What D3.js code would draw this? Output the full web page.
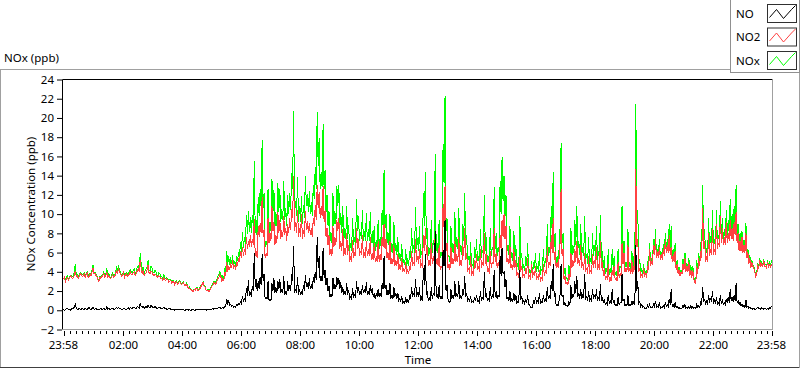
<!DOCTYPE html>
<html>
<head>
<meta charset="utf-8">
<script src="https://cdn.jsdelivr.net/npm/d3@7"></script>
<style>
  body { margin: 0; background: #fff; }
  svg text { font-family: "Noto Sans", sans-serif; font-size: 11.5px; fill: #000; }
</style>
</head>
<body>
<svg id="chart" width="800" height="369"></svg>
<script>
// samples every 2 minutes starting 23:58 (one row = 20 min)
const startClock = "23:58";
const stepMinutes = 2;

const no = [
  0.1,0.0,0.1,0.2,0.2,0.1,0.1,0.0,0.1,0.2,
  0.2,0.3,0.7,0.2,0.1,0.1,0.2,0.1,0.1,0.2,
  0.1,0.1,0.2,0.1,0.1,0.2,0.3,0.1,0.1,0.2,
  0.3,0.1,0.1,0.2,0.1,0.1,0.1,0.1,0.2,0.1,
  0.1,0.2,0.1,0.1,0.4,0.1,0.2,0.1,0.1,0.2,
  0.2,0.1,0.1,0.2,0.3,0.2,0.3,0.2,0.2,0.1,
  0.1,0.2,0.2,0.1,0.1,0.2,0.3,0.1,0.3,0.2,
  0.2,0.3,0.3,0.2,0.2,0.4,0.3,0.2,0.7,0.4,
  0.3,0.4,0.2,0.3,0.4,0.3,0.5,0.3,0.3,0.5,
  0.4,0.3,0.3,0.4,0.3,0.2,0.2,0.3,0.3,0.2,
  0.2,0.2,0.3,0.2,0.2,0.1,0.1,0.2,0.2,0.1,
  0.1,0.1,0.1,0.0,0.1,0.1,0.1,0.1,0.1,0.1,
  0.1,0.1,0.1,0.0,0.0,0.1,0.1,0.0,0.1,0.0,
  0.0,0.1,0.1,0.0,0.0,0.1,0.1,0.1,0.1,0.1,
  0.1,0.1,0.1,0.1,0.1,0.0,0.1,0.1,0.1,0.1,
  0.1,0.1,0.2,0.1,0.2,0.2,0.2,0.2,0.3,0.3,
  0.2,0.2,0.3,0.2,0.4,0.4,1.2,0.7,1.0,0.5,
  0.6,0.4,0.5,0.3,0.4,0.3,0.6,0.5,0.7,0.6,
  0.9,0.7,1.5,0.9,1.2,1.0,2.3,1.5,3.1,1.5,
  1.9,1.4,2.5,2.0,6.0,2.4,3.2,2.0,3.0,2.2,
  3.5,2.6,5.9,3.0,3.8,1.2,1.3,1.2,3.0,1.0,
  1.2,1.0,2.8,2.0,3.3,1.8,2.4,1.8,3.0,2.2,
  3.2,1.8,2.2,1.8,3.6,1.6,2.0,1.6,3.0,2.0,
  2.6,2.0,3.8,3.0,6.7,1.8,2.2,1.8,3.5,1.6,
  2.2,1.6,1.9,1.6,2.6,2.0,3.7,2.4,2.8,2.2,
  3.3,2.2,2.7,2.2,3.4,2.8,4.0,3.2,7.6,4.4,
  5.6,3.0,3.6,3.0,6.5,3.4,4.2,2.6,3.4,2.0,
  2.5,1.4,1.7,1.4,3.4,2.2,2.7,2.2,3.5,2.6,
  3.4,2.2,2.9,1.8,2.4,1.6,2.0,1.6,2.8,1.6,
  2.1,1.2,1.4,1.2,2.3,1.4,1.6,1.4,3.0,1.8,
  2.4,1.6,1.9,1.6,2.6,1.8,2.2,1.8,2.9,1.6,
  2.0,1.6,2.6,1.8,2.3,1.4,1.8,1.2,1.7,1.4,
  2.2,1.4,1.8,1.4,2.8,2.2,5.6,2.2,2.6,1.6,
  2.1,1.6,2.8,1.2,1.6,1.2,2.4,1.4,1.8,1.2,
  1.8,1.0,1.2,0.9,1.5,0.8,0.9,0.7,1.4,0.8,
  1.1,0.8,1.6,1.2,2.4,1.4,1.8,1.4,3.3,1.4,
  1.9,1.4,2.4,1.0,1.3,1.0,4.4,2.6,5.8,1.6,
  2.0,1.0,1.3,1.0,2.4,1.2,1.7,1.6,8.2,1.4,
  1.6,1.2,2.6,1.2,1.5,1.2,6.3,4.6,9.4,2.0,
  2.6,1.2,0.9,0.8,2.2,1.2,1.6,1.2,3.0,1.4,
  1.8,1.4,3.0,1.2,1.6,1.2,2.2,1.6,3.6,1.4,
  1.8,1.0,1.2,0.9,1.5,0.8,0.9,0.8,1.4,1.0,
  1.6,0.9,1.0,0.8,2.0,1.0,1.3,1.2,4.0,1.4,
  1.8,1.0,1.2,1.0,2.4,1.2,1.6,1.4,4.2,1.4,
  2.0,1.2,1.6,1.4,5.6,3.6,6.5,3.8,4.0,2.4,
  3.2,1.2,1.4,1.0,2.0,1.0,1.2,0.9,1.8,1.0,
  1.6,0.8,0.9,0.8,4.2,1.2,1.4,0.8,1.0,0.7,
  1.2,0.8,1.6,0.6,0.6,0.3,0.3,0.3,1.0,0.8,
  1.4,0.8,1.0,0.8,1.8,0.7,0.9,0.8,1.6,0.9,
  1.2,0.9,2.4,1.2,1.6,1.2,3.0,2.0,4.8,1.4,
  1.8,0.5,0.6,0.5,1.0,1.6,4.8,1.4,1.6,0.6,
  0.8,0.5,0.5,0.4,0.9,0.6,2.6,1.2,1.6,1.4,
  3.0,1.8,3.6,1.4,1.8,1.2,2.2,1.2,1.6,1.4,
  3.8,1.2,1.4,1.0,2.0,1.0,1.2,1.0,2.2,1.2,
  1.6,1.2,2.2,1.0,1.4,1.0,2.7,1.0,1.2,0.8,
  1.2,0.6,0.8,0.6,1.6,0.7,1.0,0.7,2.2,0.8,
  1.0,0.5,0.6,0.5,1.4,0.6,0.8,0.8,3.8,1.0,
  1.2,0.5,0.6,0.5,1.6,0.5,0.6,0.5,1.0,0.6,
  1.0,0.6,6.8,2.0,3.0,0.7,0.9,0.4,0.6,0.3,
  0.4,0.2,0.2,0.2,0.5,0.3,0.6,0.3,0.3,0.3,
  0.6,0.4,1.0,0.3,0.4,0.3,0.8,0.2,0.3,0.3,
  0.5,0.3,0.8,0.4,0.6,0.4,1.2,0.6,2.2,0.4,
  0.6,0.3,0.8,0.3,0.4,0.2,0.3,0.2,0.2,0.2,
  0.5,0.3,0.6,0.2,0.3,0.2,0.4,0.2,0.5,0.2,
  0.4,0.2,0.3,0.2,0.6,0.3,0.5,0.3,0.9,0.6,
  2.4,0.9,1.2,0.6,0.9,0.6,1.6,0.8,1.3,0.9,
  2.0,0.7,1.0,0.7,1.4,0.6,0.8,0.6,1.6,0.7,
  1.0,0.6,0.8,0.6,1.2,0.8,1.4,0.8,2.2,1.0,
  1.4,0.9,1.6,1.0,2.8,0.8,1.0,0.6,0.8,0.5,
  0.6,0.4,0.5,0.3,1.1,0.3,0.4,0.2,0.3,0.2,
  0.2,0.1,0.2,0.1,0.1,0.2,0.3,0.2,0.2,0.1,
  0.3,0.2,0.1,0.2,0.2,0.1,0.2,0.1,0.3,0.2,
  0.4
];

const no2 = [
  3.2,3.4,3.0,3.3,3.4,3.1,3.3,3.6,3.5,3.3,
  3.4,3.7,4.1,3.5,3.6,3.3,3.5,3.8,3.7,3.5,
  3.6,3.8,3.4,3.7,3.9,3.4,3.5,3.8,3.6,4.0,
  4.4,3.8,3.9,3.6,3.5,3.2,3.0,3.4,3.3,3.5,
  3.6,3.8,3.4,3.6,4.0,3.5,3.6,3.4,3.3,3.5,
  3.7,3.4,3.5,3.8,4.1,3.9,4.4,3.9,3.8,3.5,
  3.6,3.9,3.4,3.7,3.8,3.5,3.6,3.8,4.0,3.7,
  3.7,3.9,4.0,3.6,3.8,4.1,4.3,4.0,5.2,4.4,
  3.8,4.1,3.6,3.8,3.9,4.2,4.7,3.9,3.8,4.1,
  4.0,3.7,3.6,3.8,3.7,3.5,3.4,3.6,3.5,3.3,
  3.3,3.1,3.4,3.2,3.1,3.3,3.2,2.9,3.0,3.1,
  2.8,3.0,3.0,2.7,2.9,3.0,2.7,2.9,3.0,2.8,
  2.7,2.8,2.9,2.6,2.6,2.7,2.5,2.3,2.3,2.2,
  2.2,2.0,2.0,2.2,2.1,2.3,2.3,2.0,2.1,2.3,
  2.5,2.7,2.9,2.5,2.4,2.1,2.0,2.1,1.9,2.1,
  2.3,2.5,2.6,2.9,2.8,2.7,3.0,3.3,3.4,3.7,
  3.5,3.0,3.3,3.1,3.8,3.6,5.0,4.0,4.6,4.2,
  4.9,4.4,5.2,4.3,4.7,4.2,5.0,4.6,5.4,5.0,
  6.2,5.4,6.6,5.6,6.4,5.8,7.6,6.4,7.2,6.6,
  7.8,6.6,7.4,6.8,9.5,5.6,6.2,5.4,8.8,7.6,
  9.1,8.0,11.8,7.6,8.4,5.4,5.9,5.6,9.6,7.0,
  8.0,7.2,10.8,8.2,9.2,6.8,7.8,7.0,10.2,8.0,
  9.4,7.4,8.3,7.6,9.8,7.8,8.6,7.2,9.0,8.0,
  9.6,8.4,10.5,9.6,14.0,8.2,9.2,8.0,10.4,7.6,
  8.6,7.6,10.0,7.4,8.3,7.6,10.3,8.4,9.3,8.0,
  9.1,7.8,8.6,7.6,9.6,8.8,10.9,9.4,13.0,10.6,
  12.3,9.6,10.8,9.8,12.9,9.2,10.4,7.6,8.6,6.8,
  7.8,5.8,6.4,5.6,8.8,6.6,7.6,6.8,9.4,8.2,
  9.6,6.4,7.2,6.2,8.4,5.6,6.5,5.8,8.0,5.8,
  6.8,5.0,5.6,5.0,7.3,5.4,6.0,5.6,8.6,6.4,
  7.4,5.6,6.2,5.8,7.8,5.4,6.0,5.4,7.2,5.6,
  6.4,5.6,7.6,5.2,5.9,5.2,7.0,5.0,5.6,5.0,
  7.2,5.0,5.8,5.2,7.6,6.6,9.0,6.4,7.4,5.4,
  6.0,5.2,7.2,4.8,5.4,4.8,6.8,4.6,5.2,4.6,
  5.8,4.2,4.8,4.2,5.4,4.0,4.4,4.0,5.0,3.8,
  4.3,3.8,4.6,4.2,6.2,4.6,5.0,4.6,7.4,5.0,
  5.6,4.8,6.4,4.4,4.9,4.4,7.8,6.2,8.6,5.8,
  6.6,4.6,5.2,4.6,7.0,4.8,5.6,5.0,8.0,4.8,
  5.4,4.6,6.8,4.2,4.6,4.4,11.0,8.6,12.9,6.2,
  7.0,4.4,4.8,4.2,6.6,4.8,5.4,4.8,7.2,5.0,
  5.8,5.0,7.6,4.6,5.2,4.6,6.8,5.6,8.6,5.2,
  6.0,4.0,4.4,3.8,5.6,3.6,3.9,3.6,5.2,4.4,
  5.8,4.2,4.6,4.0,6.4,4.4,5.0,4.6,8.0,4.8,
  5.8,4.0,4.4,3.8,6.2,4.4,5.0,4.8,8.6,5.0,
  6.0,4.4,5.0,4.6,7.8,6.4,9.4,7.6,10.0,7.4,
  8.8,5.0,5.4,4.8,6.8,4.4,4.8,4.2,6.4,4.4,
  5.2,3.6,4.0,3.4,5.6,4.0,4.6,3.4,3.8,3.4,
  4.4,3.8,5.4,3.4,3.6,3.2,4.8,3.4,4.0,3.6,
  4.6,3.2,3.6,3.2,4.2,3.0,3.4,3.2,4.8,3.6,
  4.2,3.8,6.6,4.4,5.0,4.6,7.8,6.0,9.6,5.2,
  6.2,4.4,5.0,4.4,5.4,7.0,12.6,5.6,6.4,3.2,
  3.6,2.8,2.9,2.7,3.8,3.2,6.0,4.4,5.2,4.6,
  6.4,5.0,7.2,4.8,5.4,4.6,6.8,4.4,5.0,4.2,
  6.0,4.0,4.4,3.8,5.6,3.8,4.2,3.8,5.8,4.4,
  5.2,4.4,6.6,4.2,4.8,4.2,7.2,4.4,5.0,3.6,
  4.4,3.2,3.6,3.2,4.8,3.0,3.4,3.0,4.2,3.6,
  4.6,3.2,3.4,3.0,5.0,3.4,3.8,3.6,7.0,4.8,
  6.0,4.0,4.4,4.0,6.8,4.0,4.4,3.8,5.2,3.8,
  4.6,4.2,14.7,6.6,7.4,4.0,4.4,3.4,3.8,3.4,
  4.4,3.6,3.8,3.4,4.6,4.2,6.4,4.6,5.0,4.8,
  6.8,5.8,7.4,5.4,6.0,5.4,6.6,5.2,5.8,5.2,
  6.4,5.6,7.2,6.0,6.8,6.0,7.8,5.8,6.6,5.0,
  5.8,5.0,6.2,4.2,4.8,3.8,4.2,3.6,4.0,3.8,
  4.8,4.2,5.4,4.0,4.6,4.0,5.0,3.6,4.2,3.4,
  4.2,3.2,2.9,2.8,4.6,3.8,5.4,4.6,6.2,5.4,
  10.6,6.4,7.2,5.0,5.6,5.0,8.0,5.6,6.4,5.8,
  8.4,5.8,6.4,5.8,9.0,6.4,7.0,6.6,9.8,7.0,
  8.6,6.8,7.6,6.8,9.2,7.0,8.0,7.2,9.4,7.4,
  8.6,7.2,9.2,7.8,10.2,7.0,8.0,6.2,7.2,6.2,
  7.6,6.0,6.8,6.0,8.0,5.4,6.0,4.8,5.4,4.4,
  5.0,4.6,4.4,4.0,3.5,3.8,4.6,4.4,5.2,4.6,
  4.8,4.5,5.2,4.6,4.6,4.4,5.0,4.5,4.7,4.5,
  4.8
];

const nox = [
  3.3,3.4,3.1,3.5,3.6,3.2,3.4,3.6,3.6,3.5,
  3.6,4.0,4.8,3.7,3.7,3.4,3.7,3.9,3.8,3.7,
  3.7,3.9,3.6,3.8,4.0,3.6,3.8,3.9,3.7,4.2,
  4.7,3.9,4.0,3.8,3.6,3.3,3.1,3.5,3.5,3.6,
  3.7,4.0,3.5,3.7,4.4,3.6,3.8,3.5,3.4,3.7,
  3.9,3.5,3.6,4.0,4.4,4.1,4.7,4.1,4.0,3.6,
  3.7,4.1,3.6,3.8,3.9,3.7,3.9,3.9,4.3,3.9,
  3.9,4.2,4.3,3.8,4.0,4.5,4.6,4.2,5.9,4.8,
  4.1,4.5,3.8,4.1,4.3,4.5,5.2,4.2,4.1,4.6,
  4.4,4.0,3.9,4.2,4.0,3.7,3.6,3.9,3.8,3.5,
  3.5,3.3,3.7,3.4,3.3,3.4,3.3,3.1,3.2,3.2,
  2.9,3.1,3.1,2.7,3.0,3.1,2.8,3.0,3.1,2.9,
  2.8,2.9,3.0,2.6,2.6,2.8,2.6,2.3,2.4,2.2,
  2.2,2.1,2.1,2.2,2.1,2.4,2.4,2.1,2.2,2.4,
  2.6,2.8,3.0,2.6,2.5,2.1,2.1,2.2,2.0,2.2,
  2.4,2.6,2.8,3.0,3.0,2.9,3.2,3.5,3.7,4.0,
  3.7,3.2,3.6,3.3,4.2,4.0,6.2,4.7,5.6,4.7,
  5.5,4.8,5.7,4.6,5.1,4.5,5.6,5.1,6.1,5.6,
  7.1,6.1,8.1,6.5,7.6,6.8,9.9,7.9,10.3,8.1,
  9.7,8.0,9.9,8.8,15.5,8.0,9.4,7.4,11.8,9.8,
  12.6,10.6,17.7,10.6,12.2,6.6,7.2,6.8,12.6,8.0,
  9.2,8.2,13.6,10.2,12.5,8.6,10.2,8.8,13.2,10.2,
  12.6,9.2,10.5,9.4,13.4,9.4,10.6,8.8,12.0,10.0,
  12.2,10.4,14.3,12.6,20.7,10.0,11.4,9.8,13.9,9.2,
  10.8,9.2,11.9,9.0,10.9,9.6,14.0,10.8,12.1,10.2,
  12.4,10.0,11.3,9.8,13.0,11.6,14.9,12.6,20.6,15.0,
  17.9,12.6,14.4,12.8,19.4,12.6,14.6,10.2,12.0,8.8,
  10.3,7.2,8.1,7.0,12.2,8.8,10.3,9.0,12.9,10.8,
  13.0,8.6,10.1,8.0,10.8,7.2,8.5,7.4,10.8,7.4,
  8.9,6.2,7.0,6.2,9.6,6.8,7.6,7.0,11.6,8.2,
  9.8,7.2,8.1,7.4,10.4,7.2,8.2,7.2,10.1,7.2,
  8.4,7.2,10.2,7.0,8.2,6.6,8.8,6.2,7.3,6.4,
  9.4,6.4,7.6,6.6,10.4,8.8,14.6,8.6,10.0,7.0,
  8.1,6.8,10.0,6.0,7.0,6.0,9.2,6.0,7.0,5.8,
  7.6,5.2,6.0,5.1,6.9,4.8,5.3,4.7,6.4,4.6,
  5.4,4.6,6.2,5.4,8.6,6.0,6.8,6.0,10.7,6.4,
  7.5,6.2,8.8,5.4,6.2,5.4,12.2,8.8,14.4,7.4,
  8.6,5.6,6.5,5.6,9.4,6.0,7.3,6.6,16.2,6.2,
  7.0,5.8,9.4,5.4,6.1,5.6,17.3,13.2,22.3,8.2,
  9.6,5.6,5.7,5.0,8.8,6.0,7.0,6.0,10.2,6.4,
  7.6,6.4,10.6,5.8,6.8,5.8,9.0,7.2,12.2,6.6,
  7.8,5.0,5.6,4.7,7.1,4.4,4.8,4.4,6.6,5.4,
  7.4,5.1,5.6,4.8,8.4,5.4,6.3,5.8,12.0,6.2,
  7.6,5.0,5.6,4.8,8.6,5.6,6.6,6.2,12.8,6.4,
  8.0,5.6,6.6,6.0,13.4,10.0,15.9,11.4,14.0,9.8,
  12.0,6.2,6.8,5.8,8.8,5.4,6.0,5.1,8.2,5.4,
  6.8,4.4,4.9,4.2,9.8,5.2,6.0,4.2,4.8,4.1,
  5.6,4.6,7.0,4.0,4.2,3.5,5.1,3.7,5.0,4.4,
  6.0,4.0,4.6,4.0,6.0,3.7,4.3,4.0,6.4,4.5,
  5.4,4.7,9.0,5.6,6.6,5.8,10.8,8.0,14.4,6.6,
  8.0,4.9,5.6,4.9,6.4,8.6,17.4,7.0,8.0,3.8,
  4.4,3.3,3.4,3.1,4.7,3.8,8.6,5.6,6.8,6.0,
  9.4,6.8,10.8,6.2,7.2,5.8,9.0,5.6,6.6,5.6,
  9.8,5.2,5.8,4.8,7.6,4.8,5.4,4.8,8.0,5.6,
  6.8,5.6,8.8,5.2,6.2,5.2,9.9,5.4,6.2,4.4,
  5.6,3.8,4.4,3.8,6.4,3.7,4.4,3.7,6.4,4.4,
  5.6,3.7,4.0,3.5,6.4,4.0,4.6,4.4,10.8,5.8,
  7.2,4.5,5.0,4.5,8.4,4.5,5.0,4.3,6.2,4.4,
  5.6,4.8,21.5,8.6,10.4,4.7,5.3,3.8,4.4,3.7,
  4.8,3.8,4.0,3.6,5.1,4.5,7.0,4.9,5.3,5.1,
  7.4,6.2,8.4,5.7,6.4,5.7,7.4,5.4,6.1,5.5,
  6.9,5.9,8.0,6.4,7.4,6.4,9.0,6.4,8.8,5.4,
  6.4,5.3,7.0,4.5,5.2,4.0,4.5,3.8,4.2,4.0,
  5.3,4.5,6.0,4.2,4.9,4.2,5.4,3.8,4.7,3.6,
  4.6,3.4,3.2,3.0,5.2,4.1,5.9,4.9,7.1,6.0,
  13.0,7.3,8.4,5.6,6.5,5.6,9.6,6.4,7.7,6.7,
  10.4,6.5,7.4,6.5,10.4,7.0,7.8,7.2,11.4,7.7,
  9.6,7.4,8.4,7.4,10.4,7.8,9.4,8.0,11.6,8.4,
  10.0,8.1,10.8,8.8,13.0,7.8,9.0,6.8,8.0,6.7,
  8.2,6.4,7.3,6.3,9.1,5.7,6.4,5.0,5.7,4.6,
  5.2,4.7,4.6,4.1,3.6,4.0,4.9,4.6,5.4,4.7,
  5.1,4.7,5.3,4.8,4.8,4.5,5.2,4.6,5.0,4.7,
  5.2
];

const seriesNames = ["NO", "NO2", "NOx"];
const yTickValues = [-2, 0, 2, 4, 6, 8, 10, 12, 14, 16, 18, 20, 22, 24];
const xTickLabels = ["23:58", "02:00", "04:00", "06:00", "08:00", "10:00", "12:00",
                     "14:00", "16:00", "18:00", "20:00", "22:00", "23:58"];

const colors = { NO: "#000000", NO2: "#ff4242", NOx: "#00ff00" };
const plot = { left: 62.5, right: 772.5, top: 79.5, bottom: 329.5, x0: 63.5, x1: 771.5 };

const svg = d3.select("#chart");

// time helpers
const [sh, sm] = startClock.split(":").map(Number);
const start = new Date(2020, 0, 1, sh, sm);
const end = d3.timeMinute.offset(start, 24 * 60);
const timeAt = i => d3.timeMinute.offset(start, i * stepMinutes);

const x = d3.scaleTime().domain([start, end]).range([plot.x0, plot.x1]);
const y = d3.scaleLinear().domain([-2, 24]).range([plot.bottom, plot.top]);

// outer panel lines
svg.append("line").attr("x1", 0).attr("x2", 731).attr("y1", 69.5).attr("y2", 69.5).attr("stroke", "#a0a0a0");
svg.append("line").attr("x1", 0.5).attr("x2", 0.5).attr("y1", 69).attr("y2", 368).attr("stroke", "#a0a0a0");
svg.append("line").attr("x1", 0).attr("x2", 800).attr("y1", 367.5).attr("y2", 367.5).attr("stroke", "#404040");
svg.append("line").attr("x1", 799.5).attr("x2", 799.5).attr("y1", 73).attr("y2", 368).attr("stroke", "#a0a0a0");

svg.append("text").attr("x", 4).attr("y", 62).text("NOx (ppb)");

// plot frame
svg.append("line").attr("x1", plot.left).attr("x2", plot.right).attr("y1", plot.top).attr("y2", plot.top).attr("stroke", "#000");
svg.append("line").attr("x1", plot.left).attr("x2", plot.left).attr("y1", plot.top).attr("y2", plot.bottom).attr("stroke", "#000");
svg.append("line").attr("x1", plot.right).attr("x2", plot.right).attr("y1", plot.top).attr("y2", plot.bottom + 0.5).attr("stroke", "#a0a0a0");
svg.append("line").attr("x1", plot.left).attr("x2", plot.right).attr("y1", plot.bottom).attr("y2", plot.bottom).attr("stroke", "#a0a0a0");

// y axis
const yAxis = svg.append("g").attr("transform", `translate(${plot.left - 0.5},0)`)
  .call(d3.axisLeft(y).tickValues(yTickValues).tickSize(5).tickPadding(3).tickFormat(d3.format("d")));
yAxis.select(".domain").remove();
yAxis.selectAll(".tick line").attr("stroke", "#000");
yAxis.selectAll(".tick text").attr("fill", "#000").style("font-size", "11.5px").style("font-family", "Noto Sans");

svg.append("text")
  .attr("transform", "translate(35,204) rotate(-90)")
  .attr("text-anchor", "middle")
  .text("NOx Concentration (ppb)");

// x axis: majors from labels, minors every 12 minutes
const majorTimes = xTickLabels.map((lab, i) => {
  if (i === 0) return start;
  if (i === xTickLabels.length - 1) return end;
  const [h, m] = lab.split(":").map(Number);
  return new Date(2020, 0, 2, h, m);
});
const minorTimes = d3.timeMinute.every(12).range(start, end)
  .filter(t => !majorTimes.some(mt => +mt === +t));

const xg = svg.append("g").attr("shape-rendering", "crispEdges");
xg.selectAll(".minor").data(minorTimes).join("line")
  .attr("x1", d => Math.round(x(d)) + 0.5).attr("x2", d => Math.round(x(d)) + 0.5)
  .attr("y1", 331).attr("y2", 334).attr("stroke", "#000");
xg.selectAll(".major").data(majorTimes).join("line")
  .attr("x1", d => Math.round(x(d)) + 0.5).attr("x2", d => Math.round(x(d)) + 0.5)
  .attr("y1", 331).attr("y2", 336).attr("stroke", "#000");
svg.append("g").selectAll("text").data(majorTimes).join("text")
  .attr("x", d => x(d)).attr("y", 349).attr("text-anchor", "middle")
  .text((d, i) => xTickLabels[i]);

svg.append("text").attr("x", 418).attr("y", 364).attr("text-anchor", "middle").text("Time");

// traces: NOx underneath, NO2 over it, NO on top
const series = { NO: no, NO2: no2, NOx: nox };
const line = d3.line().x(d => x(d.t)).y(d => y(d.v));
["NOx", "NO2", "NO"].forEach(name => {
  const pts = series[name].map((v, i) => ({ t: timeAt(i), v }));
  svg.append("path")
    .datum(pts)
    .attr("d", line)
    .attr("fill", "none")
    .attr("stroke", colors[name])
    .attr("stroke-width", 1)
    .attr("shape-rendering", "crispEdges");
});

// legend
const legend = svg.append("g");
legend.append("rect").attr("x", 730.5).attr("y", -1).attr("width", 69).attr("height", 73.5)
  .attr("fill", "#fff").attr("stroke", "#909090");
const zig = [[2, 13], [9, 5], [16, 14], [24, 5], [28, 1]];
seriesNames.forEach((name, i) => {
  const gy = 4.5 + i * 23.5;
  const g = legend.append("g").attr("transform", `translate(767.5,${gy})`);
  g.append("rect").attr("width", 29).attr("height", 18).attr("fill", "#fff").attr("stroke", "#303030");
  g.append("path").attr("d", d3.line()(zig)).attr("fill", "none").attr("stroke", colors[name]);
  legend.append("text").attr("x", 736).attr("y", gy + 13).text(name);
});
</script>
</body>
</html>
